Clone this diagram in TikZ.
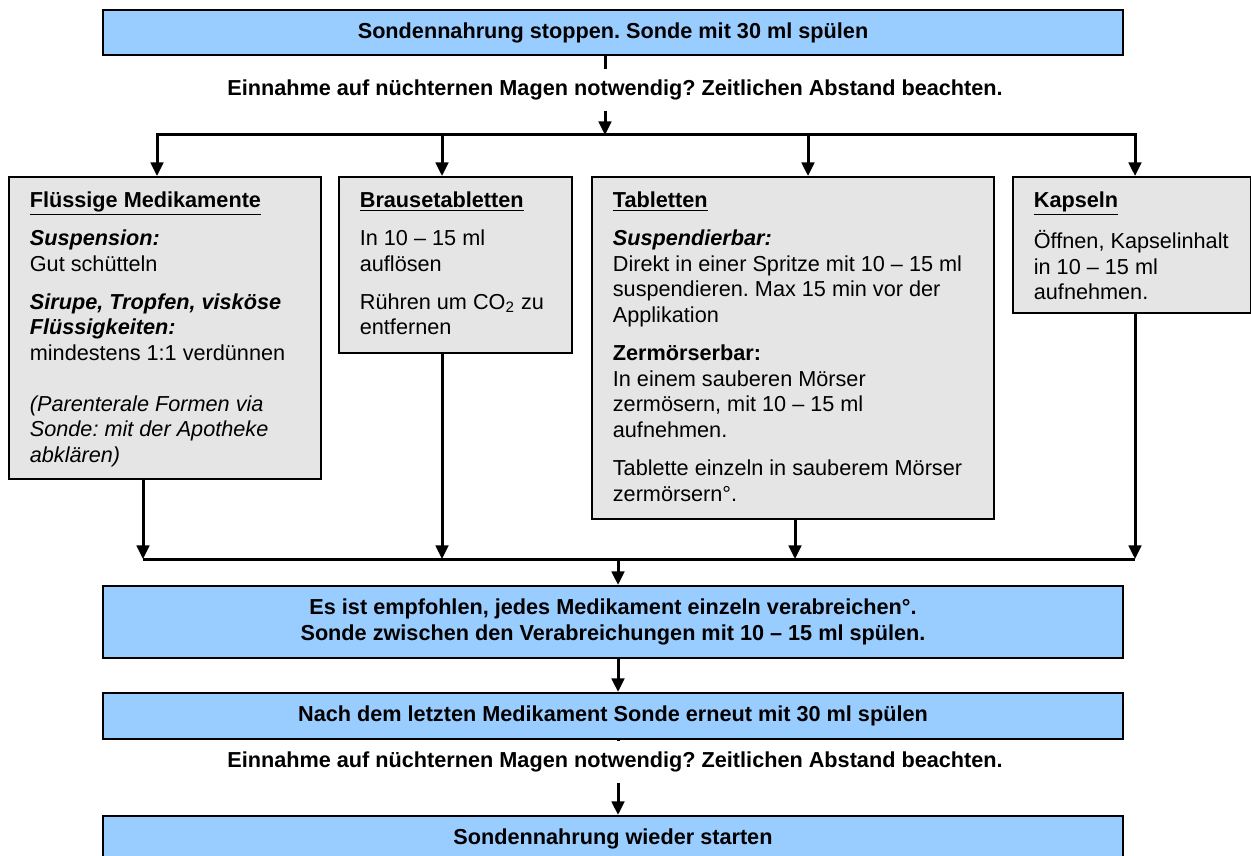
\documentclass[tikz,border=0pt]{standalone}
\usepackage{fontspec}
\setmainfont{Liberation Sans}
\usetikzlibrary{arrows.meta, positioning}

\newlength{\pxu}
\setlength{\pxu}{0.48pt}
\definecolor{boxblue}{HTML}{99CCFF}
\frenchspacing
\newcommand{\boxtext}[3]{\parbox[t][\dimexpr#2\pxu-14pt\relax][t]{\dimexpr#1\pxu-20pt\relax}{\raggedright\setlength{\parskip}{6pt}#3}}

\begin{document}
\begin{tikzpicture}[x=0.48pt, y=-0.48pt, font=\fontsize{10.4}{12.3}\selectfont]

% Styles
        \tikzstyle{bluebox}=[rectangle, draw, line width=1pt, fill=boxblue, font=\fontsize{10.4}{12.6}\selectfont\bfseries, align=center, minimum width=1020*\pxu]
        \tikzstyle{medbox}=[rectangle, draw, line width=1pt, fill=black!10, anchor=north west, inner xsep=10pt, inner ysep=7pt]
        \tikzstyle{question}=[font=\fontsize{10.4}{12.3}\selectfont\bfseries, text height=7.5pt, text depth=2pt, inner ysep=5pt]
        \tikzstyle{line}=[line width=1.44pt]
        \tikzstyle{arrow}=[-{Triangle[width=6pt,length=6.5pt]}, line width=1.44pt]

        \useasboundingbox (0,0) rectangle (1251,856);

% Nodes
% Start
        \node[bluebox, minimum height=45*\pxu] (stop) at (613,32.5) {Sondennahrung stoppen. Sonde mit 30 ml spülen};
        \node[question] (fast1) at (615,90) {Einnahme auf nüchternen Magen notwendig? Zeitlichen Abstand beachten.};

% Liquid
        \node[medbox] (fluid) at (8,176) {\boxtext{312}{302}{%
          \underline{\textbf{Flüssige Medikamente}}\par
          \textbf{\textit{Suspension:}}\\Gut schütteln\par
          \textbf{\textit{Sirupe, Tropfen, visköse\\Flüssigkeiten:}}\\mindestens 1:1 verdünnen\\[12pt]
          \textit{(Parenterale Formen via\\Sonde: mit der Apotheke\\abklären)}}};

% Effervescent
        \node[medbox] (brause) at (338,176) {\boxtext{233}{176}{%
          \underline{\textbf{Brausetabletten}}\par
          In 10 – 15 ml\\auflösen\par
          Rühren um CO\textsubscript{2} zu\\entfernen}};

% Tablets
        \node[medbox] (tabl) at (591,176) {\boxtext{402}{342}{%
          \underline{\textbf{Tabletten}}\par
          \textbf{\textit{Suspendierbar:}}\\Direkt in einer Spritze mit 10 – 15 ml\\suspendieren. Max 15 min vor der\\Applikation\par
          \textbf{Zermörserbar:}\\In einem sauberen Mörser\\zermösern, mit 10 – 15 ml\\aufnehmen.\par
          Tablette einzeln in sauberem Mörser\\zermörsern°.}};

% Capsules
        \node[medbox] (kaps) at (1012,176) {\boxtext{238}{136}{%
          \underline{\textbf{Kapseln}}\par
          Öffnen, Kapselinhalt\\in 10 – 15 ml\\aufnehmen.}};

% End
        \node[bluebox, minimum height=72*\pxu] (single) at (613,622) {Es ist empfohlen, jedes Medikament einzeln verabreichen°.\\Sonde zwischen den Verabreichungen mit 10 – 15 ml spülen.};
        \node[bluebox, minimum height=46*\pxu, below=15.8pt of single] (flush) {Nach dem letzten Medikament Sonde erneut mit 30 ml spülen};
        \node[question] (fast2) at (615,762) {Einnahme auf nüchternen Magen notwendig? Zeitlichen Abstand beachten.};
        \node[bluebox, minimum height=46*\pxu] (restart) at (613,839) {Sondennahrung wieder starten};

% Junctions
        \coordinate (split) at (605,135);
        \coordinate (d1) at (157,135);
        \coordinate (d2) at (442,135);
        \coordinate (d3) at (808,135);
        \coordinate (d4) at (1135,135);
        \coordinate (c1) at (143,559);
        \coordinate (c2) at (442,559);
        \coordinate (c3) at (795,559);
        \coordinate (c4) at (1135,559);
        \coordinate (merge) at (618,559);

% Connections
% Split
        \draw[line] (stop.south -| split) -- (fast1.north -| split);
        \draw[arrow] (fast1.south -| split) -- (split);
        \draw[arrow] (split) -| (fluid.north -| d1);
        \draw[arrow] (split) -| (kaps.north -| d4);
        \draw[arrow] (d2) -- (brause.north -| d2);
        \draw[arrow] (d3) -- (tabl.north -| d3);

% Merge
        \draw[arrow] (fluid.south -| c1) -- (c1);
        \draw[arrow] (brause.south -| c2) -- (c2);
        \draw[arrow] (tabl.south -| c3) -- (c3);
        \draw[arrow] (kaps.south -| c4) -- (c4);
        \draw[line] (c1) -- (c4);
        \draw[arrow] (merge) -- (single.north -| merge);
        \draw[arrow] (single.south -| merge) -- (flush.north -| merge);
        \draw[line] (flush.south -| merge) -- (fast2.north -| merge);
        \draw[arrow] (fast2.south -| merge) -- (restart.north -| merge);

    \end{tikzpicture}
\end{document}
